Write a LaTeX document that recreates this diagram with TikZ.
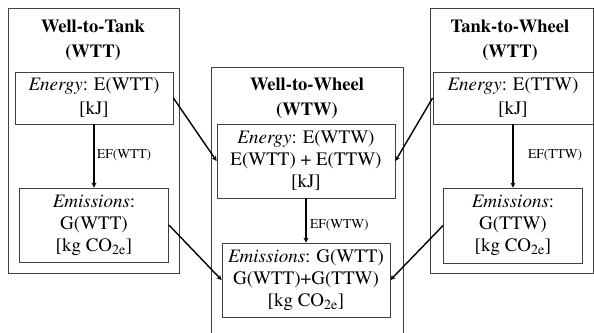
\documentclass[tikz,border=0pt]{standalone}
\usepackage[T1]{fontenc}
\usepackage{mathptmx}
\usetikzlibrary{arrows.meta}
\begin{document}
\begin{tikzpicture}[x=1pt,y=-1pt,
  frame/.style={draw=black!75,line width=0.8pt,inner sep=0pt},
  box/.style={draw=black!75,line width=0.8pt,align=center,inner sep=0pt,
    font=\fontsize{19}{22}\selectfont},
  box2/.style={box,font=\fontsize{19}{24}\selectfont},
  ttl/.style={align=center,font=\fontsize{18.5}{25}\selectfont\bfseries,inner sep=0pt},
  lbl/.style={anchor=west,font=\fontsize{13.5}{16}\selectfont,inner sep=0pt},
  arr/.style={-{Stealth[length=5pt,width=5pt]},line width=1.4pt,black}]
\useasboundingbox (0,0) rectangle (594,332);
\fill[white] (0,0) rectangle (594,332);
% outer frames
\node[frame,minimum width=171pt,minimum height=265pt] (WTTframe) at (93.5,140.5) {};
\node[frame,minimum width=163pt,minimum height=265pt] (TTWframe) at (511.5,140.5) {};
\draw[draw=black!75,line width=0.8pt] (211,334) -- (211,67) -- (403,67) -- (403,334);
% titles
\node[ttl] (WTTtitle) at (93,40) {Well-to-Tank\\(WTT)};
\node[ttl] (WTWtitle) at (307,98) {Well-to-Wheel\\(WTW)};
\node[ttl] (TTWtitle) at (510,40) {Tank-to-Wheel\\(WTT)};
% inner boxes
\node[box2,minimum width=158pt,minimum height=52pt] (WTTE) at (94,98) {\textit{Energy}: E(WTT)\\{}[kJ]};
\node[box,minimum width=149pt,minimum height=74pt] (WTTG) at (94,225) {\textit{Emissions}:\\G(WTT)\\{}[kg CO\textsubscript{2e}]};
\node[box,minimum width=178pt,minimum height=74pt] (WTWE) at (306,161) {\textit{Energy}: E(WTW)\\E(WTT) + E(TTW)\\{}[kJ]};
\node[box,minimum width=168pt,minimum height=74pt] (WTWG) at (306,280) {\textit{Emissions}: G(WTT)\\G(WTT)+G(TTW)\\{}[kg CO\textsubscript{2e}]};
\node[box2,minimum width=160pt,minimum height=52pt] (TTWE) at (513,98) {\textit{Energy}: E(TTW)\\{}[kJ]};
\node[box,minimum width=139pt,minimum height=75pt] (TTWG) at (513,225.5) {\textit{Emissions}:\\G(TTW)\\{}[kg CO\textsubscript{2e}]};
% labels
\node[lbl] (EF1) at (97,155) {EF(WTT)};
\node[lbl] (EF2) at (310,225) {EF(WTW)};
\node[lbl] (EF3) at (528,155) {EF(TTW)};
% arrows
\draw[arr] (WTTE.south) -- (WTTG.north);
\draw[arr] (WTWE.south) -- (WTWG.north);
\draw[arr] (TTWE.south) -- (TTWG.north);
\draw[arr] (WTTE.east) -- (WTWE.west);
\draw[arr] (WTTG.east) -- (WTWG.west);
\draw[arr] (TTWE.west) -- (WTWE.east);
\draw[arr] (TTWG.west) -- (WTWG.east);
\end{tikzpicture}
\end{document}
